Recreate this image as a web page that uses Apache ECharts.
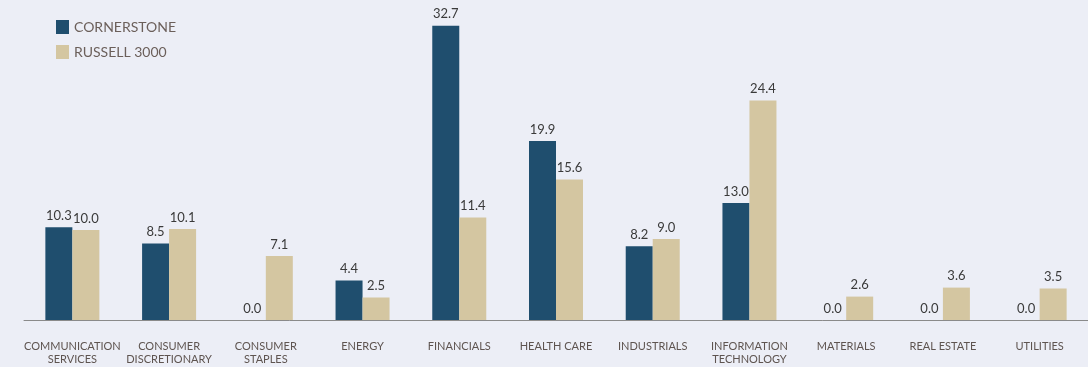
<!DOCTYPE html>
<html><head><meta charset="utf-8">
<script src="https://cdn.jsdelivr.net/npm/echarts@6/dist/echarts.min.js"></script>
<style>html,body{margin:0;padding:0;background:#eceef6;}#c{width:1088px;height:367px;}</style>
</head><body><div id="c"></div>
<script>
const categories = ["COMMUNICATION\nSERVICES","CONSUMER\nDISCRETIONARY","CONSUMER\nSTAPLES","ENERGY","FINANCIALS","HEALTH CARE","INDUSTRIALS","INFORMATION\nTECHNOLOGY","MATERIALS","REAL ESTATE","UTILITIES"];
const cornerstone = [10.3, 8.5, 0.0, 4.4, 32.7, 19.9, 8.2, 13.0, 0.0, 0.0, 0.0];
const russell = [10.0, 10.1, 7.1, 2.5, 11.4, 15.6, 9.0, 24.4, 2.6, 3.6, 3.5];
const seriesNames = ["CORNERSTONE", "RUSSELL 3000"];

const chart = echarts.init(document.getElementById('c'), null, {renderer:'canvas'});
const labelCfg = {show:true, position:'top', distance:5, color:'#3a3a3a', fontSize:13, fontFamily:'Lato', formatter: p => p.value.toFixed(1)};
chart.setOption({
  backgroundColor:'#eceef6',
  animation:false,
  legend:{
    orient:'vertical', left:51, top:15, itemWidth:13, itemHeight:14, itemGap:11, icon:'rect',
    textStyle:{color:'#6b5f5a', fontSize:14, fontFamily:'Lato'},
    data: seriesNames
  },
  grid:{left:24, right:0, top:5, bottom:47},
  xAxis:{
    type:'category', data:categories,
    axisLine:{lineStyle:{color:'#8a8a8a', width:1}},
    axisTick:{show:false},
    axisLabel:{interval:0, color:'#5e5450', fontSize:11, fontFamily:'Lato', margin:20, lineHeight:13}
  },
  yAxis:{type:'value', min:0, max:35, show:false, splitLine:{show:false}},
  series:[
    {name:seriesNames[0], type:'bar', data:cornerstone, barWidth:27, barGap:'0%', itemStyle:{color:'#1f4e6e'}, label:labelCfg},
    {name:seriesNames[1], type:'bar', data:russell, barWidth:27, barGap:'0%', itemStyle:{color:'#d4c6a1'}, label:labelCfg}
  ]
});
</script></body></html>
